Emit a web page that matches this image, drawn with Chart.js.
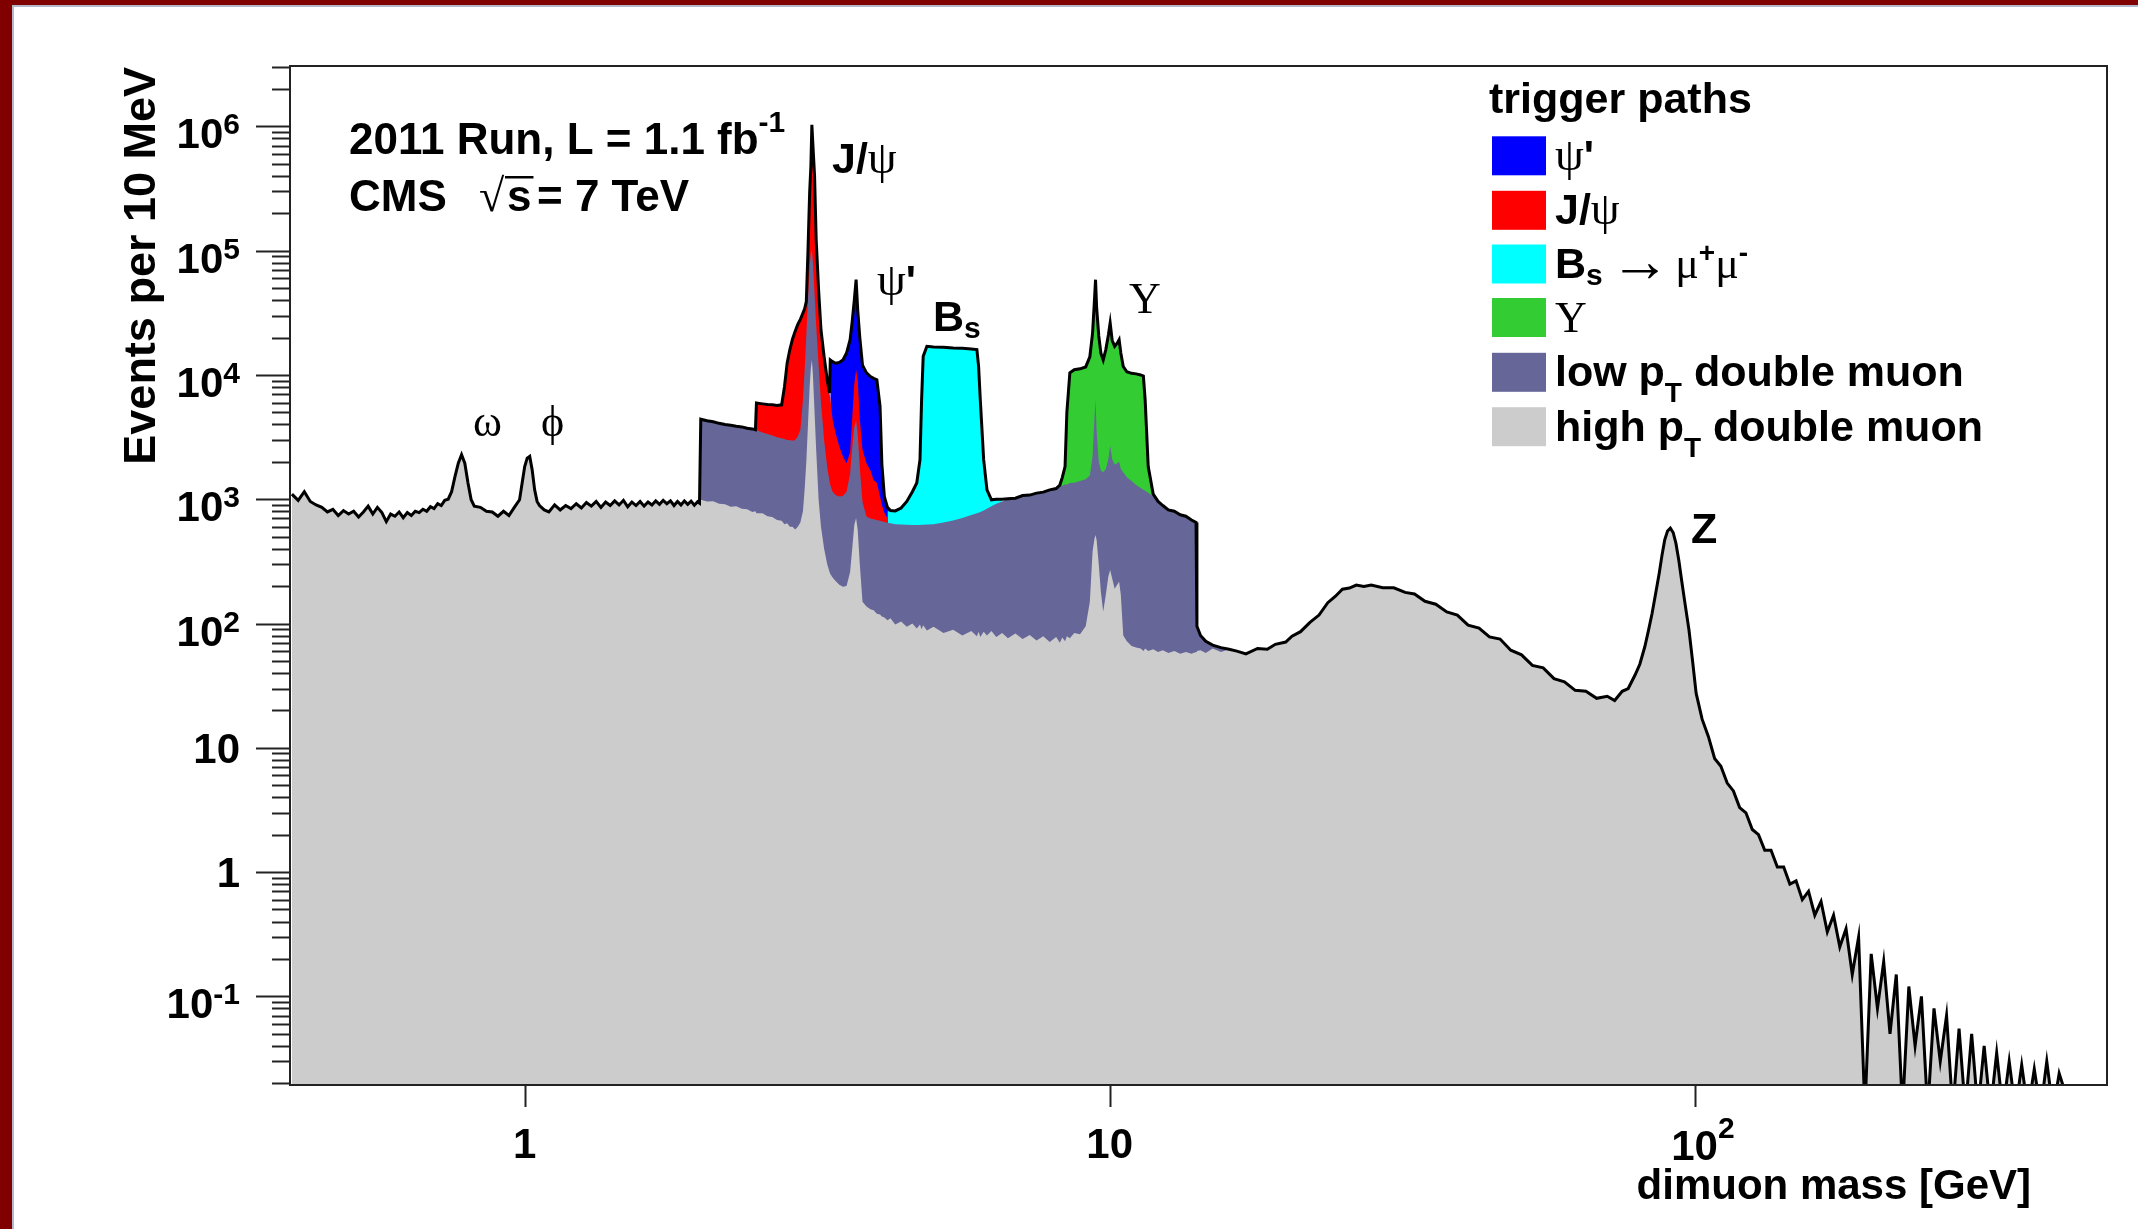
<!DOCTYPE html>
<html>
<head>
<meta charset="utf-8">
<title>CMS dimuon mass spectrum 2011</title>
<script src="https://cdn.jsdelivr.net/npm/chart.js"></script>
<style>
  html, body { margin: 0; padding: 0; background: #fff; }
  #wrap { position: relative; width: 2138px; height: 1229px; }
</style>
</head>
<body>
<div id="wrap"><canvas id="chart"></canvas></div>
<script>
// dimuon mass points [GeV], low mass part (below 2 GeV)
const massA = [
  0.40, 0.41, 0.42, 0.43, 0.44, 0.45, 0.46, 0.47, 0.48, 0.49,
  0.50, 0.51, 0.52, 0.53, 0.54, 0.55, 0.56, 0.57, 0.58, 0.59,
  0.60, 0.61, 0.62, 0.63, 0.64, 0.65, 0.66, 0.67, 0.68, 0.69,
  0.70, 0.71, 0.72, 0.73, 0.74, 0.75, 0.76, 0.77, 0.78, 0.79,
  0.80, 0.81, 0.82, 0.84, 0.86, 0.88, 0.90, 0.92, 0.94, 0.96,
  0.98, 0.99, 1.00, 1.01, 1.02, 1.03, 1.04, 1.05, 1.06, 1.08,
  1.10, 1.125, 1.15, 1.175, 1.20, 1.225, 1.25, 1.275, 1.30, 1.325,
  1.35, 1.375, 1.40, 1.425, 1.45, 1.475, 1.50, 1.525, 1.55, 1.575,
  1.60, 1.625, 1.65, 1.675, 1.70, 1.725, 1.75, 1.775, 1.80, 1.825,
  1.85, 1.875, 1.90, 1.925, 1.95, 1.975, 1.99
];
const highPtA = [
  1100, 980, 1150, 960, 900, 860, 790, 830, 740, 810,
  760, 800, 720, 790, 880, 760, 860, 780, 660, 760,
  730, 790, 710, 780, 740, 800, 780, 830, 800, 870,
  840, 920, 890, 980, 1000, 1150, 1520, 1950, 2280, 1950,
  1350, 990, 880, 860, 800, 790, 730, 800, 740, 860,
  990, 1350, 1830, 2140, 2210, 1720, 1190, 960, 890, 820,
  790, 900, 820, 890, 840, 920, 850, 940, 880, 960,
  860, 950, 890, 970, 900, 980, 870, 950, 890, 960,
  880, 950, 900, 970, 910, 980, 920, 970, 890, 960,
  900, 970, 910, 965, 895, 955, 930
];

// 2 - 14 GeV (quarkonium and B_s trigger windows)
const massB = [
  2.00, 2.05, 2.10, 2.15, 2.20, 2.25, 2.30, 2.35, 2.40, 2.45,
  2.48, 2.49, 2.55, 2.60, 2.65, 2.70, 2.75, 2.78, 2.81, 2.84,
  2.87, 2.90, 2.93, 2.96, 2.99, 3.01, 3.03, 3.05, 3.07, 3.085,
  3.097, 3.11, 3.13, 3.15, 3.18, 3.21, 3.25, 3.29, 3.32, 3.33,
  3.36, 3.40, 3.45, 3.50, 3.55, 3.60, 3.63, 3.66, 3.686, 3.71,
  3.74, 3.78, 3.84, 3.90, 3.95, 4.00, 4.05, 4.08, 4.12, 4.17,
  4.22, 4.30, 4.40, 4.50, 4.60, 4.68, 4.74, 4.77, 4.80, 4.87,
  5.00, 5.20, 5.40, 5.60, 5.80, 5.93, 5.97, 6.01, 6.09, 6.17,
  6.28, 6.40, 6.55, 6.70, 6.90, 7.10, 7.30, 7.50, 7.70, 7.90,
  8.10, 8.22, 8.30, 8.39, 8.45, 8.55, 8.70, 8.90, 9.10, 9.25,
  9.35, 9.42, 9.46, 9.50, 9.58, 9.66, 9.75, 9.85, 9.95, 10.02,
  10.10, 10.20, 10.30, 10.38, 10.45, 10.55, 10.70, 10.90, 11.10, 11.30,
  11.42, 11.50, 11.64, 11.87, 12.10, 12.33, 12.60, 12.90, 13.20, 13.50,
  13.80, 14.05
];
const highPtB = [
  990, 960, 965, 920, 910, 870, 880, 840, 830, 790,
  800, 770, 770, 730, 720, 680, 670, 630, 640, 600,
  600, 570, 600, 650, 800, 1200, 2000, 4000, 8000, 11500,
  13200, 10000, 5000, 2500, 1000, 600, 400, 300, 260, 250,
  235, 220, 205, 198, 200, 260, 400, 620, 705, 560,
  300, 150, 137, 130, 128, 120, 118, 114, 112, 106,
  110, 98, 104, 94, 100, 91, 98, 90, 97, 88,
  94, 84, 89, 80, 87, 79, 86, 78, 86, 80,
  87, 78, 84, 76, 83, 75, 81, 73, 79, 71,
  78, 70, 77, 72, 79, 76, 84, 82, 95, 150,
  380, 480, 516, 470, 300, 180, 125, 170, 240, 270,
  230, 190, 205, 217, 170, 80, 72, 66, 64, 63,
  60, 63, 60, 62, 59, 61, 58, 60, 57, 59,
  57, 59
];
const lowPtB = [
  4400, 4280, 4200, 4080, 3990, 3930, 3860, 3820, 3720, 3680,
  3620, 3600, 3450, 3350, 3250, 3150, 3100, 3050, 3000, 3000,
  2950, 3000, 3200, 3620, 6300, 11000, 21000, 40000, 75000, 95000,
  102000, 80000, 45000, 25000, 12000, 6000, 3000, 1800, 1400, 1300,
  1150, 1080, 1050, 1060, 1150, 1600, 2600, 3800, 4300, 3300,
  1800, 950, 726, 700, 690, 680, 670, 665, 655, 648,
  641, 630, 625, 622, 620, 620, 621, 622, 622, 625,
  630, 650, 675, 705, 745, 770, 780, 790, 810, 840,
  880, 920, 960, 1010, 1020, 1070, 1080, 1120, 1140, 1190,
  1220, 1270, 1280, 1320, 1310, 1350, 1360, 1400, 1450, 1550,
  2200, 4500, 6300, 3500, 2000, 1700, 1650, 1750, 2100, 2700,
  2100, 1900, 1950, 2000, 1750, 1650, 1500, 1400, 1300, 1230,
  1190, 1170, 1130, 1050, 960, 890, 820, 800, 750, 730,
  680, 650
];

// above 14 GeV (Drell-Yan continuum, Z and high mass tail)
const massC = [
  14.10, 14.30, 14.60, 15.00, 15.50, 16.00, 16.50, 17.10, 17.90, 18.60,
  19.20, 20.00, 20.50, 21.20, 22.00, 22.80, 23.60, 24.30, 25.00, 25.70,
  26.40, 27.20, 28.00, 29.30, 30.60, 32.00, 33.20, 34.60, 36.10, 37.70,
  39.30, 41.00, 42.80, 44.60, 46.50, 48.50, 50.60, 52.80, 55.10, 57.50,
  59.90, 62.50, 65.20, 68.00, 70.90, 73.00, 75.20, 77.00, 79.10, 80.60,
  82.20, 83.40, 84.60, 85.80, 87.00, 88.00, 88.90, 89.90, 90.90, 91.90,
  92.90, 94.00, 95.00, 96.40, 97.80, 99.20, 100.6, 103.0, 105.6, 108.2,
  110.9, 113.7, 116.5, 119.4, 122.4, 125.5, 128.6, 131.8, 135.1, 138.5,
  142.0, 145.5, 149.1, 152.8, 156.6, 160.5, 164.5, 168.6, 172.8, 177.1,
  181.5, 186.0, 190.7, 195.5, 200.4, 205.4, 210.5, 215.8, 221.2, 226.7,
  232.4, 238.2, 244.2, 250.3, 256.6, 263.0, 269.6, 276.3, 283.2, 290.3,
  297.6, 305.0, 312.6, 320.4, 328.4, 336.6, 345.0, 353.6, 362.4, 371.5,
  380.8, 390.3, 400.0, 410.0, 420.0, 440.0, 470.0, 507.0
];
const highPtC = [
  60, 61, 58, 63, 59, 62, 60, 57, 63, 62,
  68, 71, 79, 86, 102, 117, 147, 165, 189, 193,
  204, 199, 204, 194, 194, 178, 173, 151, 143, 124,
  117, 97, 92, 78, 75, 61, 56, 46, 44, 36,
  34, 29, 28.5, 25, 26, 24, 28.5, 30, 38.5, 47,
  65, 88, 121, 175, 254, 360, 471, 555, 585, 540,
  443, 320, 224, 140, 89, 50, 27.5, 17, 12.3, 8.2,
  7.1, 5.2, 4.5, 3.3, 3.0, 2.2, 2.0, 1.5, 1.5, 1.1,
  1.1, 0.8, 0.85, 0.6, 0.7, 0.45, 0.58, 0.33, 0.45, 0.25,
  0.35, 0.15, 0.3, 0.012, 0.22, 0.08, 0.19, 0.05, 0.15, 0.012,
  0.12, 0.04, 0.1, 0.012, 0.08, 0.03, 0.07, 0.012, 0.055, 0.012,
  0.05, 0.012, 0.04, 0.012, 0.035, 0.012, 0.03, 0.012, 0.028, 0.012,
  0.026, 0.012, 0.03, 0.012, 0.024, 0.012, 0.012, 0.012
];
const lowPtC = [95, 80, 72, 67, 64, 60];

// dedicated trigger paths, each listed from its first mass point
const jpsiFrom = 2.49;
const jpsiPath = [
  5940, 5850, 5780, 5750, 5680, 5750, 8000, 12500, 16000, 19500,
  22500, 25500, 28000, 31500, 34000, 39000, 100000, 292000, 477000, 1030000,
  700000, 400000, 123000, 48500, 23100, 14000, 9150, 7150, 6500, 4400,
  3400, 2660, 2210, 1950, 2400, 4500, 8500, 11000, 9150, 4400,
  2500, 1950, 1700, 1430, 1350, 1050, 900, 780, 700
];
const psiPrimeFrom = 3.33;
const psiPrimePath = [
  13200, 12800, 12400, 12600, 13200, 15000, 19200, 27000, 40000, 58400,
  33000, 20000, 12000, 10400, 9700, 9400, 9150, 5600, 1900, 1050,
  860, 810
];
const bsFrom = 4.17;
const bsPath = [
  800, 800, 805, 850, 960, 1150, 1350, 2080, 6300, 14100,
  17000, 16800, 16700, 16500, 16400, 16200, 16000, 11700, 6300, 2080,
  1190, 990, 1000, 1000
];
const upsilonFrom = 8.22;
const upsilonPath = [
  1300, 1500, 1830, 5000, 10400, 11000, 11200, 11600, 14000, 21700,
  40000, 58400, 35000, 20700, 15000, 13200, 16000, 21000, 26200, 19000,
  17000, 18000, 19200, 15000, 11700, 10600, 10300, 10200, 10000, 9800,
  6300, 1830, 1100, 960
];

const yTickExps = [-1, 0, 1, 2, 3, 4, 5, 6];
const xTickExps = [0, 1, 2];

const mass = massA.concat(massB, massC);
const highPt = highPtA.concat(highPtB, highPtC);

function pad(from, vals) {
  const out = mass.map(() => null);
  const i0 = mass.indexOf(from);
  vals.forEach((v, k) => { if (i0 + k < out.length) out[i0 + k] = v; });
  return out;
}

const lowPt = pad(2.00, lowPtB.concat(lowPtC));
const jpsi = pad(jpsiFrom, jpsiPath);
const psiPrime = pad(psiPrimeFrom, psiPrimePath);
const bs = pad(bsFrom, bsPath);
const upsilon = pad(upsilonFrom, upsilonPath);

// black outline = envelope of all trigger paths
const total = mass.map((m, i) => {
  const vals = [highPt[i], lowPt[i], jpsi[i], psiPrime[i], bs[i], upsilon[i]].filter(v => v != null);
  return Math.max(...vals);
});

const pts = arr => mass.map((m, i) => ({ x: m, y: arr[i] }));

const SANS = '"Liberation Sans", Arial, Helvetica, sans-serif';
const SERIF = '"Liberation Serif", "Times New Roman", "DejaVu Serif", serif';
const bold = px => `bold ${px}px ${SANS}`;
const serif = px => `${px}px ${SERIF}`;

// draw a run of text pieces (for super/subscripts and mixed fonts)
function rich(ctx, x, y, parts, align) {
  let w = 0;
  parts.forEach(p => { ctx.font = p.f; p.w = ctx.measureText(p.t).width; w += p.w; });
  let cx = align === 'right' ? x - w : (align === 'center' ? x - w / 2 : x);
  ctx.textAlign = 'left';
  ctx.textBaseline = 'alphabetic';
  parts.forEach(p => {
    ctx.font = p.f;
    ctx.fillText(p.t, cx, y + (p.dy || 0));
    p.x = cx;
    cx += p.w;
  });
  return parts;
}

const pageDecor = {
  id: 'pageDecor',
  beforeDraw(chart) {
    const ctx = chart.ctx;
    ctx.save();
    ctx.fillStyle = '#ffffff';
    ctx.fillRect(0, 0, chart.width, chart.height);
    ctx.fillStyle = '#800000';
    ctx.fillRect(0, 0, chart.width, 5);
    ctx.fillRect(0, 0, 12, chart.height);
    ctx.fillStyle = '#b4b8cc';
    ctx.fillRect(12, 5, 2, chart.height - 5);
    ctx.fillRect(12, 5, chart.width - 12, 2);
    ctx.restore();
  },
  afterDraw(chart) {
    const ctx = chart.ctx;
    const xs = chart.scales.x, ys = chart.scales.y;
    const a = chart.chartArea;
    ctx.save();
    ctx.fillStyle = '#000';

    // frame
    ctx.strokeStyle = '#222';
    ctx.lineWidth = 2;
    ctx.strokeRect(a.left, a.top, a.right - a.left, a.bottom - a.top);

    // y ticks (log, outside the frame) and x ticks
    ctx.beginPath();
    for (let e = -2; e <= 6; e++) {
      for (let k = 1; k <= 9; k++) {
        const v = k * Math.pow(10, e);
        if (v < ys.min || v > ys.max) continue;
        const py = Math.round(ys.getPixelForValue(v)) + 0.5;
        const len = k === 1 ? 34 : 18;
        ctx.moveTo(a.left - len, py);
        ctx.lineTo(a.left, py);
      }
    }
    xTickExps.forEach(e => {
      const px = Math.round(xs.getPixelForValue(Math.pow(10, e))) + 0.5;
      ctx.moveTo(px, a.bottom);
      ctx.lineTo(px, a.bottom + 22);
    });
    ctx.stroke();

    // y tick labels
    yTickExps.forEach(e => {
      const py = ys.getPixelForValue(Math.pow(10, e));
      let parts;
      if (e === 0) parts = [{ t: '1', f: bold(42) }];
      else if (e === 1) parts = [{ t: '10', f: bold(42) }];
      else parts = [{ t: '10', f: bold(42), dy: 7 }, { t: String(e), f: bold(30), dy: -7 }];
      rich(ctx, 240, py + 15, parts, 'right');
    });

    // x tick labels
    xTickExps.forEach(e => {
      const px = xs.getPixelForValue(Math.pow(10, e));
      if (e === 0) rich(ctx, px, 1158, [{ t: '1', f: bold(42) }], 'center');
      else if (e === 1) rich(ctx, px, 1158, [{ t: '10', f: bold(42) }], 'center');
      else {
        ctx.font = bold(42);
        const w10 = ctx.measureText('10').width;
        rich(ctx, px - w10 / 2, 1160, [{ t: '10', f: bold(42) }, { t: String(e), f: bold(30), dy: -22 }], 'left');
      }
    });

    // axis titles
    rich(ctx, 2031, 1199, [{ t: 'dimuon mass [GeV]', f: bold(42) }], 'right');
    ctx.save();
    ctx.translate(155, 67);
    ctx.rotate(-Math.PI / 2);
    rich(ctx, 0, 0, [{ t: 'Events per 10 MeV', f: bold(45) }], 'right');
    ctx.restore();

    // run info
    rich(ctx, 349, 154, [{ t: '2011 Run, L = 1.1 fb', f: bold(44) }, { t: '-1', f: bold(30), dy: -22 }], 'left');
    rich(ctx, 349, 211, [{ t: 'CMS', f: bold(44) }], 'left');
    rich(ctx, 479, 211, [{ t: '\u221A', f: serif(46) }], 'left');
    const s = rich(ctx, 507, 211, [{ t: 's', f: bold(44) }], 'left');
    ctx.fillRect(s[0].x - 2, 211 - 35, s[0].w + 4, 2.5);
    rich(ctx, 537, 211, [{ t: '= 7 TeV', f: bold(44) }], 'left');

    // resonance labels
    rich(ctx, 832, 173, [{ t: 'J/', f: bold(43) }, { t: '\u03C8', f: serif(46) }], 'left');
    rich(ctx, 877, 295, [{ t: '\u03C8', f: serif(46) }, { t: "'", f: bold(43) }], 'left');
    rich(ctx, 933, 331, [{ t: 'B', f: bold(43) }, { t: 's', f: bold(30), dy: 7 }], 'left');
    rich(ctx, 473, 436, [{ t: '\u03C9', f: serif(44) }], 'left');
    rich(ctx, 541, 436, [{ t: '\u03D5', f: serif(44) }], 'left');
    rich(ctx, 1129, 313, [{ t: '\u03A5', f: serif(44) }], 'left');
    rich(ctx, 1691, 543, [{ t: 'Z', f: bold(43) }], 'left');

    // legend
    rich(ctx, 1489, 113, [{ t: 'trigger paths', f: bold(43) }], 'left');
    const rowsY = [155.8, 210.3, 264, 317.5, 372.3, 426.7];
    const order = [6, 5, 4, 3, 2, 1];
    const labels = [
      [{ t: '\u03C8', f: serif(46) }, { t: "'", f: bold(43) }],
      [{ t: 'J/', f: bold(43) }, { t: '\u03C8', f: serif(46) }],
      [{ t: 'B', f: bold(43) }, { t: 's', f: bold(30), dy: 7 }, { t: ' ', f: serif(30) },
       { t: '\u2192', f: serif(60), dy: 3 }, { t: ' ', f: serif(20) },
       { t: '\u03BC', f: serif(44) }, { t: '+', f: bold(28), dy: -16 }, { t: '\u03BC', f: serif(44) },
       { t: '-', f: bold(28), dy: -16 }],
      [{ t: '\u03A5', f: serif(44) }],
      [{ t: 'low p', f: bold(43) }, { t: 'T', f: bold(28), dy: 16 }, { t: ' double muon', f: bold(43) }],
      [{ t: 'high p', f: bold(43) }, { t: 'T', f: bold(28), dy: 16 }, { t: ' double muon', f: bold(43) }]
    ];
    rowsY.forEach((cy, r) => {
      const ds = chart.data.datasets[order[r]];
      ctx.fillStyle = ds.backgroundColor;
      ctx.fillRect(1492, cy - 19.5, 54, 39);
      ctx.fillStyle = '#000';
      rich(ctx, 1555, cy + 14, labels[r], 'left');
    });

    ctx.restore();
  }
};

const area = (label, data, color) => ({
  label,
  data: pts(data),
  backgroundColor: color,
  borderColor: 'rgba(0,0,0,0)',
  borderWidth: 0,
  fill: 'start',
  pointRadius: 0,
  tension: 0
});

const chart = new Chart(document.getElementById('chart'), {
  type: 'line',
  data: {
    datasets: [
      {
        label: 'all',
        data: pts(total),
        borderColor: '#000000',
        borderWidth: 3,
        fill: false,
        pointRadius: 0,
        tension: 0
      },
      area('high pT double muon', highPt, '#cccccc'),
      area('low pT double muon', lowPt, '#666699'),
      area('Upsilon', upsilon, '#33cc33'),
      area('Bs -> mu mu', bs, '#00ffff'),
      area('J/psi', jpsi, '#ff0000'),
      area("psi'", psiPrime, '#0000ff')
    ]
  },
  options: {
    responsive: true,
    maintainAspectRatio: false,
    animation: false,
    devicePixelRatio: 1,
    layout: { padding: { left: 290, top: 66, right: 31, bottom: 144 } },
    scales: {
      x: { type: 'logarithmic', min: 0.397, max: 507, display: false },
      y: { type: 'logarithmic', min: 0.01936, max: 3.06e6, display: false }
    },
    plugins: {
      legend: { display: false },
      tooltip: { enabled: false }
    }
  },
  plugins: [pageDecor]
});
</script>
</body>
</html>
